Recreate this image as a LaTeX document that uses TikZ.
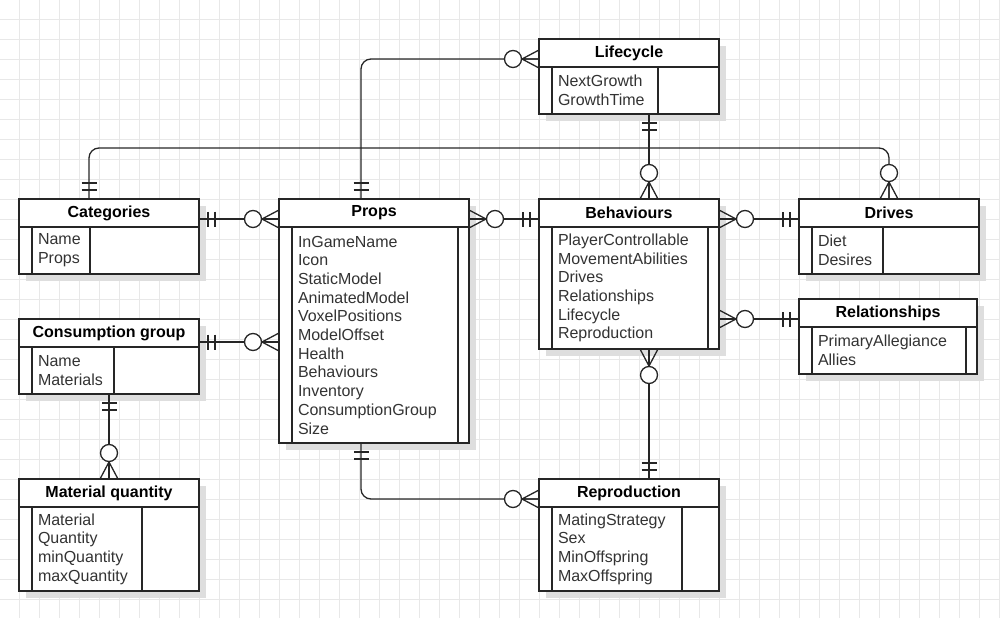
\documentclass[tikz,border=0pt]{standalone}
\usepackage{fontspec}
\setmainfont{Liberation Sans}
\usepackage{tikz}
\usetikzlibrary{positioning,shadows}

\begin{document}
\begin{tikzpicture}[
  x=1pt, y=-1pt,
  font=\fontsize{16}{18.7}\selectfont,
  gridline/.style={draw=black!9, line width=0.8pt},
  rel/.style={draw=black!85, line width=1.3pt},
  ent/.style={draw=black!85, line width=1.4pt, fill=white, outer sep=0pt,
    drop shadow={shadow xshift=7pt, shadow yshift=-7pt, fill=black!13, opacity=1}},
  head/.style={ent, minimum height=28pt, inner sep=0pt,
    font=\fontsize{16}{18.7}\selectfont\bfseries},
  body/.style={ent, align=left, inner xsep=19pt, inner ysep=0pt, text=black!80},
  pics/onebar/.style={code={\draw[rel] (9,-7.5) -- (9,7.5) (16,-7.5) -- (16,7.5);}},
  pics/zmany/.style={code={\draw[rel] (0,-9) -- (17,0) -- (0,9) (0,0) -- (17,0);
    \draw[rel, fill=white] (26,0) circle[radius=8.5pt];}}
]
\useasboundingbox (0,0) rectangle (1000,618);
% grid
\foreach \gx in {19,39,...,999}{\draw[gridline] (\gx,0) -- (\gx,618);}
\foreach \gy in {19,39,...,599}{\draw[gridline] (0,\gy) -- (1000,\gy);}

% entities
\node[head, minimum width=180, anchor=north west] (lifH) at (539,39) {Lifecycle};
\node[body, text width=142pt, minimum height=47, below=0pt of lifH] (lifB) {NextGrowth\\GrowthTime};
\node[head, minimum width=180, anchor=north west] (catH) at (19,199) {Categories};
\node[body, text width=142pt, minimum height=47, below=0pt of catH] (catB) {Name\\Props};
\node[head, minimum width=190, anchor=north west] (propH) at (279,199) {Props};
\node[body, text width=152pt, minimum height=216, below=0pt of propH] (propB)
  {InGameName\\Icon\\StaticModel\\AnimatedModel\\VoxelPositions\\ModelOffset\\Health\\Behaviours\\Inventory\\ConsumptionGroup\\Size};
\node[head, minimum width=180, anchor=north west] (behH) at (539,199) {Behaviours};
\node[body, text width=142pt, minimum height=122, below=0pt of behH] (behB)
  {PlayerControllable\\MovementAbilities\\Drives\\Relationships\\Lifecycle\\Reproduction};
\node[head, minimum width=180, anchor=north west] (drvH) at (799,199) {Drives};
\node[body, text width=142pt, minimum height=47, below=0pt of drvH] (drvB) {Diet\\Desires};
\node[head, minimum width=178, anchor=north west] (relH) at (799,299) {Relationships};
\node[body, text width=140pt, minimum height=47, below=0pt of relH] (relB) {PrimaryAllegiance\\Allies};
\node[head, minimum width=180, anchor=north west] (conH) at (19,319) {Consumption group};
\node[body, text width=142pt, minimum height=47, below=0pt of conH] (conB) {Name\\Materials};
\node[head, minimum width=180, anchor=north west] (matH) at (19,479) {Material quantity};
\node[body, text width=142pt, minimum height=84, below=0pt of matH] (matB)
  {Material\\Quantity\\minQuantity\\maxQuantity};
\node[head, minimum width=180, anchor=north west] (repH) at (539,479) {Reproduction};
\node[body, text width=142pt, minimum height=84, below=0pt of repH] (repB)
  {MatingStrategy\\Sex\\MinOffspring\\MaxOffspring};

% key stripe and column rule
\foreach \b/\d in {lifB/119,catB/71,propB/179,behB/169,drvB/84,relB/167,conB/95,matB/123,repB/143}{
  \draw[rel, line width=1.4pt] ([xshift=13]\b.north west) -- ([xshift=13]\b.south west);
  \draw[rel, line width=1.4pt] ([xshift=\d]\b.north west) -- ([xshift=\d]\b.south west);}

% relationships
\coordinate (relL) at ([yshift=-6pt]relH.west);
\coordinate (conR) at ([yshift=-9pt]conH.east);
\foreach \u/\v in {catH/propH,propH/behH,behH/drvH}{\draw[rel] ([yshift=-6pt]\u.east) -- ([yshift=-6pt]\v.west);}
\draw[rel] (relL -| behB.east) -- (relL);
\draw[rel] (conR) -- (conR -| propB.west);
\draw[rel] (conB.south) -- (matH.north);
\draw[rel] ([xshift=20pt]lifB.south) -- ([xshift=20pt]behH.north);
\draw[rel] ([xshift=20pt]behB.south) -- ([xshift=20pt]repH.north);
\draw[rel, rounded corners=10pt] ([xshift=-13pt]propH.north) |- ([yshift=-6pt]lifH.west);
\draw[rel, rounded corners=10pt] ([xshift=-13pt]propB.south) |- ([yshift=-6pt]repH.west);
\draw[rel, rounded corners=10pt] ([xshift=-20pt]catH.north) -- ++(0,-51) -| (drvH.north);

% ends
\pic at ([yshift=-6pt]catH.east) {onebar};
\pic[rotate=180] at ([yshift=-6pt]propH.west) {zmany};
\pic at ([yshift=-6pt]propH.east) {zmany};
\pic[rotate=180] at ([yshift=-6pt]behH.west) {onebar};
\pic at ([yshift=-6pt]behH.east) {zmany};
\pic[rotate=180] at ([yshift=-6pt]drvH.west) {onebar};
\pic at (relL -| behB.east) {zmany};
\pic[rotate=180] at (relL) {onebar};
\pic at (conR) {onebar};
\pic[rotate=180] at (conR -| propB.west) {zmany};
\pic[rotate=-90] at (conB.south) {onebar};
\pic[rotate=90] at (matH.north) {zmany};
\pic[rotate=-90] at ([xshift=20pt]lifB.south) {onebar};
\pic[rotate=90] at ([xshift=20pt]behH.north) {zmany};
\pic[rotate=-90] at ([xshift=20pt]behB.south) {zmany};
\pic[rotate=90] at ([xshift=20pt]repH.north) {onebar};
\pic[rotate=90] at ([xshift=-13pt]propH.north) {onebar};
\pic[rotate=180] at ([yshift=-6pt]lifH.west) {zmany};
\pic[rotate=-90] at ([xshift=-13pt]propB.south) {onebar};
\pic[rotate=180] at ([yshift=-6pt]repH.west) {zmany};
\pic[rotate=90] at ([xshift=-20pt]catH.north) {onebar};
\pic[rotate=90] at (drvH.north) {zmany};
\end{tikzpicture}
\end{document}
